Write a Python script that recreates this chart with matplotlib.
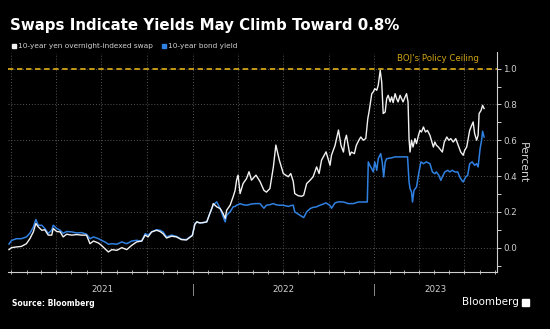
import pandas as pd
import matplotlib
matplotlib.use("Agg")
import matplotlib.pyplot as plt
import matplotlib.dates as mdates
import matplotlib.transforms as mtrans
from matplotlib.patches import Rectangle

TITLE = "Swaps Indicate Yields May Climb Toward 0.8%"
SWAP_LABEL = "10-year yen overnight-indexed swap"
BOND_LABEL = "10-year bond yield"
CEILING_LABEL = "BOJ's Policy Ceiling"
CEILING = 1.0
YEARS = [2021, 2022, 2023]
X_START, X_END = "2020-12-25", "2023-09-05"

# 10-year yen OIS (white line)
swap_dates = [
    "2020-12-27", "2021-01-01", "2021-01-11", "2021-01-21", "2021-01-31", "2021-02-07",
    "2021-02-14", "2021-02-19", "2021-02-24", "2021-03-03", "2021-03-09", "2021-03-16",
    "2021-03-23", "2021-03-26", "2021-04-02", "2021-04-09", "2021-04-15", "2021-04-22",
    "2021-05-02", "2021-05-12", "2021-05-22", "2021-06-01", "2021-06-08", "2021-06-15",
    "2021-06-25", "2021-07-01", "2021-07-08", "2021-07-15", "2021-07-22", "2021-08-01",
    "2021-08-11", "2021-08-21", "2021-08-31", "2021-09-10", "2021-09-20", "2021-09-27",
    "2021-10-03", "2021-10-10", "2021-10-20", "2021-10-27", "2021-11-02", "2021-11-09",
    "2021-11-19", "2021-11-29", "2021-12-09", "2021-12-19", "2021-12-26", "2021-12-31",
    "2022-01-05", "2022-01-09", "2022-01-15", "2022-01-22", "2022-01-29", "2022-02-04",
    "2022-02-08", "2022-02-11", "2022-02-18", "2022-02-25", "2022-03-03", "2022-03-07",
    "2022-03-10", "2022-03-17", "2022-03-23", "2022-03-27", "2022-03-30", "2022-04-02",
    "2022-04-06", "2022-04-12", "2022-04-19", "2022-04-24", "2022-04-29", "2022-05-08",
    "2022-05-16", "2022-05-24", "2022-05-29", "2022-06-05", "2022-06-12", "2022-06-17",
    "2022-06-24", "2022-07-02", "2022-07-12", "2022-07-17", "2022-07-22", "2022-07-25",
    "2022-08-01", "2022-08-08", "2022-08-12", "2022-08-18", "2022-08-25", "2022-08-31",
    "2022-09-07", "2022-09-12", "2022-09-17", "2022-09-26", "2022-10-04", "2022-10-07",
    "2022-10-14", "2022-10-21", "2022-10-26", "2022-10-31", "2022-11-03", "2022-11-06",
    "2022-11-10", "2022-11-13", "2022-11-16", "2022-11-22", "2022-11-26", "2022-12-01",
    "2022-12-05", "2022-12-10", "2022-12-15", "2022-12-19", "2022-12-22", "2022-12-27",
    "2022-12-30", "2023-01-02", "2023-01-06", "2023-01-09", "2023-01-13", "2023-01-16",
    "2023-01-19", "2023-01-23", "2023-01-26", "2023-01-29", "2023-02-02", "2023-02-05",
    "2023-02-08", "2023-02-12", "2023-02-15", "2023-02-18", "2023-02-22", "2023-02-25",
    "2023-02-28", "2023-03-04", "2023-03-07", "2023-03-10", "2023-03-12", "2023-03-14",
    "2023-03-17", "2023-03-20", "2023-03-24", "2023-03-27", "2023-03-31", "2023-04-03",
    "2023-04-06", "2023-04-10", "2023-04-14", "2023-04-18", "2023-04-23", "2023-04-26",
    "2023-04-30", "2023-05-03", "2023-05-06", "2023-05-10", "2023-05-15", "2023-05-18",
    "2023-05-22", "2023-05-27", "2023-05-31", "2023-06-04", "2023-06-09", "2023-06-14",
    "2023-06-19", "2023-06-24", "2023-06-29", "2023-07-02", "2023-07-06", "2023-07-09",
    "2023-07-12", "2023-07-16", "2023-07-19", "2023-07-22", "2023-07-26", "2023-07-29",
    "2023-07-31", "2023-08-04", "2023-08-07", "2023-08-10",
]
swap_yield = [
    -0.011, 0.000, 0.004, 0.007, 0.022, 0.050,
    0.088, 0.135, 0.116, 0.097, 0.100, 0.070,
    0.070, 0.107, 0.090, 0.088, 0.060, 0.075,
    0.070, 0.073, 0.070, 0.070, 0.022, 0.037,
    0.026, 0.013, -0.006, -0.024, -0.011, -0.015,
    0.000, -0.011, 0.013, 0.032, 0.037, 0.070,
    0.060, 0.088, 0.097, 0.090, 0.078, 0.054,
    0.064, 0.060, 0.045, 0.043, 0.058, 0.068,
    0.130, 0.144, 0.138, 0.140, 0.144, 0.190,
    0.218, 0.246, 0.228, 0.218, 0.190, 0.163,
    0.209, 0.237, 0.284, 0.320, 0.377, 0.405,
    0.302, 0.358, 0.386, 0.424, 0.377, 0.405,
    0.370, 0.320, 0.310, 0.330, 0.451, 0.573,
    0.489, 0.414, 0.396, 0.414, 0.370, 0.302,
    0.290, 0.287, 0.293, 0.358, 0.377, 0.396,
    0.451, 0.414, 0.489, 0.535, 0.460, 0.517,
    0.570, 0.657, 0.572, 0.534, 0.600, 0.628,
    0.562, 0.516, 0.534, 0.525, 0.572, 0.600,
    0.618, 0.600, 0.610, 0.720, 0.767, 0.860,
    0.870, 0.888, 0.879, 0.907, 0.990, 0.925,
    0.749, 0.758, 0.832, 0.851, 0.814, 0.842,
    0.810, 0.860, 0.832, 0.814, 0.851, 0.832,
    0.814, 0.842, 0.860, 0.814, 0.609, 0.534,
    0.600, 0.562, 0.609, 0.581, 0.628, 0.655,
    0.646, 0.674, 0.646, 0.655, 0.628, 0.600,
    0.562, 0.590, 0.572, 0.562, 0.544, 0.534,
    0.590, 0.618, 0.600, 0.609, 0.590, 0.609,
    0.572, 0.534, 0.516, 0.544, 0.562, 0.609,
    0.655, 0.683, 0.702, 0.637, 0.600, 0.628,
    0.749, 0.767, 0.795, 0.777,
]

# 10-year JGB yield (blue line)
bond_dates = [
    "2020-12-27", "2021-01-01", "2021-01-11", "2021-01-21", "2021-01-31", "2021-02-07",
    "2021-02-14", "2021-02-19", "2021-02-24", "2021-03-03", "2021-03-09", "2021-03-16",
    "2021-03-23", "2021-03-26", "2021-04-02", "2021-04-09", "2021-04-15", "2021-04-22",
    "2021-05-02", "2021-05-12", "2021-05-22", "2021-06-01", "2021-06-08", "2021-06-15",
    "2021-06-25", "2021-07-01", "2021-07-08", "2021-07-15", "2021-07-22", "2021-08-01",
    "2021-08-11", "2021-08-21", "2021-08-31", "2021-09-10", "2021-09-20", "2021-09-27",
    "2021-10-03", "2021-10-10", "2021-10-20", "2021-10-27", "2021-11-02", "2021-11-09",
    "2021-11-19", "2021-11-29", "2021-12-09", "2021-12-19", "2021-12-26", "2021-12-31",
    "2022-01-05", "2022-01-09", "2022-01-15", "2022-01-22", "2022-01-29", "2022-02-04",
    "2022-02-08", "2022-02-11", "2022-02-18", "2022-02-25", "2022-03-03", "2022-03-07",
    "2022-03-10", "2022-03-17", "2022-03-23", "2022-03-27", "2022-03-30", "2022-04-02",
    "2022-04-06", "2022-04-12", "2022-04-19", "2022-04-24", "2022-04-29", "2022-05-08",
    "2022-05-16", "2022-05-24", "2022-05-29", "2022-06-05", "2022-06-12", "2022-06-17",
    "2022-06-24", "2022-07-02", "2022-07-12", "2022-07-17", "2022-07-22", "2022-07-25",
    "2022-08-01", "2022-08-08", "2022-08-12", "2022-08-18", "2022-08-25", "2022-08-31",
    "2022-09-07", "2022-09-12", "2022-09-17", "2022-09-26", "2022-10-04", "2022-10-07",
    "2022-10-14", "2022-10-21", "2022-10-31", "2022-11-10", "2022-11-20", "2022-11-30",
    "2022-12-13", "2022-12-18", "2022-12-20", "2022-12-23", "2022-12-27", "2022-12-30",
    "2023-01-02", "2023-01-06", "2023-01-09", "2023-01-14", "2023-01-17", "2023-01-20",
    "2023-01-23", "2023-01-26", "2023-02-02", "2023-02-12", "2023-02-25", "2023-03-09",
    "2023-03-12", "2023-03-14", "2023-03-17", "2023-03-19", "2023-03-22", "2023-03-27",
    "2023-04-01", "2023-04-05", "2023-04-10", "2023-04-16", "2023-04-23", "2023-04-28",
    "2023-05-03", "2023-05-06", "2023-05-11", "2023-05-15", "2023-05-18", "2023-05-23",
    "2023-05-29", "2023-06-02", "2023-06-07", "2023-06-12", "2023-06-18", "2023-06-22",
    "2023-06-26", "2023-06-29", "2023-07-04", "2023-07-08", "2023-07-12", "2023-07-17",
    "2023-07-22", "2023-07-26", "2023-07-29", "2023-08-02", "2023-08-05", "2023-08-07",
    "2023-08-10",
]
bond_yield = [
    0.020, 0.040, 0.050, 0.050, 0.060, 0.080,
    0.115, 0.157, 0.125, 0.125, 0.107, 0.080,
    0.097, 0.125, 0.107, 0.097, 0.080, 0.090,
    0.088, 0.082, 0.084, 0.075, 0.050, 0.060,
    0.050, 0.041, 0.032, 0.019, 0.022, 0.019,
    0.032, 0.022, 0.037, 0.041, 0.036, 0.078,
    0.070, 0.088, 0.100, 0.097, 0.088, 0.060,
    0.070, 0.063, 0.047, 0.045, 0.060, 0.069,
    0.134, 0.144, 0.138, 0.140, 0.144, 0.190,
    0.218, 0.237, 0.256, 0.218, 0.172, 0.144,
    0.181, 0.200, 0.228, 0.230, 0.237, 0.240,
    0.246, 0.240, 0.237, 0.240, 0.244, 0.246,
    0.246, 0.220, 0.237, 0.240, 0.246, 0.240,
    0.237, 0.237, 0.230, 0.235, 0.237, 0.200,
    0.187, 0.175, 0.168, 0.200, 0.218, 0.225,
    0.228, 0.235, 0.240, 0.250, 0.235, 0.220,
    0.250, 0.256, 0.255, 0.246, 0.246, 0.255,
    0.255, 0.255, 0.479, 0.460, 0.441, 0.423,
    0.479, 0.432, 0.497, 0.525, 0.479, 0.395,
    0.479, 0.497, 0.500, 0.507, 0.507, 0.507,
    0.367, 0.330, 0.311, 0.255, 0.320, 0.339,
    0.423, 0.479, 0.469, 0.479, 0.469, 0.423,
    0.413, 0.423, 0.404, 0.376, 0.395, 0.423,
    0.432, 0.423, 0.432, 0.423, 0.423, 0.395,
    0.376, 0.367, 0.395, 0.404, 0.469, 0.479,
    0.460, 0.469, 0.451, 0.553, 0.600, 0.650,
    0.618,
]

BG = "black"
WHITE_LINE = "#f2f2f2"
BLUE_LINE = "#2f80e0"
GOLD = "#d1a514"
GRID = "#555555"
TXT = "#d0d0d0"

swap = pd.Series(swap_yield, index=pd.to_datetime(swap_dates))
bond = pd.Series(bond_yield, index=pd.to_datetime(bond_dates))

fig = plt.figure(figsize=(5.5, 3.29), dpi=100, facecolor=BG)
ax = fig.add_axes([8 / 550, 57 / 329, 489 / 550, 219.5 / 329])
ax.set_facecolor(BG)

ax.set_xlim(pd.Timestamp(X_START), pd.Timestamp(X_END))
ax.set_ylim(-0.136, 1.09)

# grid
ax.xaxis.set_major_locator(mdates.MonthLocator(bymonth=[1, 4, 7, 10]))
ax.xaxis.set_minor_locator(mdates.MonthLocator())
ax.set_yticks([0.0, 0.2, 0.4, 0.6, 0.8, 1.0])
ax.set_yticks([-0.1, 0.1, 0.3, 0.5, 0.7, 0.9], minor=True)
ax.grid(True, which="major", color=GRID, linestyle=(0, (1, 2)), linewidth=0.7)
ax.set_axisbelow(True)

ax.axhline(CEILING, color=GOLD, linewidth=1.3, dashes=(3, 2), zorder=2)

ax.plot(bond.index, bond.values, color=BLUE_LINE, linewidth=1.1, zorder=3)
ax.plot(swap.index, swap.values, color=WHITE_LINE, linewidth=1.0, zorder=4)

# spines / ticks
for s in ["left", "top"]:
    ax.spines[s].set_visible(False)
for s in ["right", "bottom"]:
    ax.spines[s].set_color("#cfcfcf")
    ax.spines[s].set_linewidth(0.8)

ax.yaxis.tick_right()
ax.tick_params(axis="y", which="both", direction="out", length=3, width=0.7,
               colors="#cfcfcf", labelsize=6.3, pad=1.5)
ax.yaxis.set_major_formatter(plt.FormatStrFormatter("%.1f"))
ax.tick_params(axis="x", which="both", direction="inout", length=3, width=0.6,
               colors="#cfcfcf", labelbottom=False)

ax.yaxis.set_label_position("right")
ax.set_ylabel("Percent", rotation=270, color=TXT, fontsize=7.8, labelpad=8)

# year labels and separators under the axis
trans = mtrans.blended_transform_factory(ax.transData, ax.transAxes)
x0, x1 = pd.Timestamp(X_START), pd.Timestamp(X_END)
for i, yr in enumerate(YEARS):
    a = max(pd.Timestamp(f"{yr}-01-01"), x0)
    b = min(pd.Timestamp(f"{yr + 1}-01-01"), x1)
    mid = a + (b - a) / 2
    ax.text(mid, -0.08, str(yr), transform=trans, ha="center", va="center",
            color=TXT, fontsize=6.3)
    if i > 0:
        ax.plot([pd.Timestamp(f"{yr}-01-01")] * 2, [-0.055, -0.105], transform=trans,
                color="#8a8a8a", linewidth=0.7, clip_on=False)

ax.text(0.962, 1.057, CEILING_LABEL,
        transform=mtrans.blended_transform_factory(ax.transAxes, ax.transData),
        ha="right", va="center", color=GOLD, fontsize=6.2)

# title and legend
fig.text(10 / 550, 1 - 30 / 329, TITLE, color="white", fontsize=10.8,
         fontweight="bold", ha="left", va="baseline")

fig.patches.append(Rectangle((12 / 550, 1 - 48 / 329), 4 / 550, 4 / 329,
                             transform=fig.transFigure, color=WHITE_LINE))
fig.text(18 / 550, 1 - 46 / 329, SWAP_LABEL, color=TXT, fontsize=5.3,
         ha="left", va="center")
fig.patches.append(Rectangle((162 / 550, 1 - 48 / 329), 4 / 550, 4 / 329,
                             transform=fig.transFigure, color=BLUE_LINE))
fig.text(168 / 550, 1 - 46 / 329, BOND_LABEL, color=TXT, fontsize=5.3,
         ha="left", va="center")

# footer
fig.text(12 / 550, 1 - 303 / 329, "Source: Bloomberg", color="white", fontsize=5.5,
         fontweight="bold", ha="left", va="center")
fig.text(519 / 550, 1 - 302 / 329, "Bloomberg", color="white", fontsize=7.5,
         ha="right", va="center")
fig.patches.append(Rectangle((522 / 550, 1 - 306 / 329), 7 / 550, 7 / 329,
                             transform=fig.transFigure, color="white"))

fig.savefig("out.png", dpi=100, facecolor=BG)
